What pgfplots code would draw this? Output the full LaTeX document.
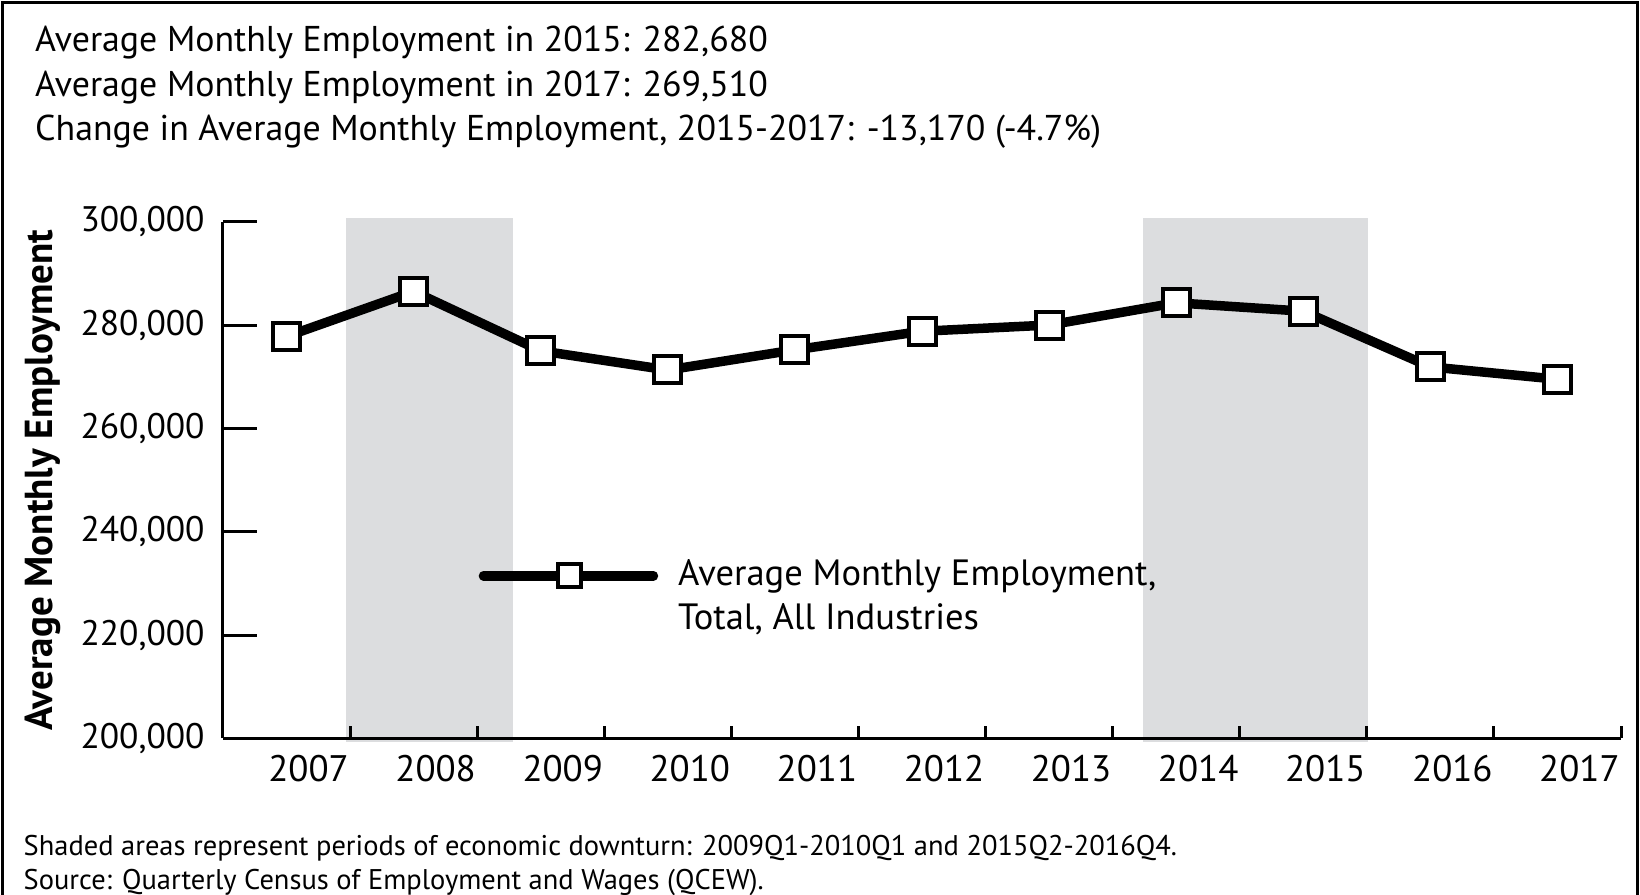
\documentclass[border=0pt]{standalone}
\usepackage{pgfplots}
\pgfplotsset{compat=1.18}
\usepackage{fontspec}
\setmainfont{PT Sans}
\definecolor{shade}{RGB}{220,221,223}
\begin{document}
\begin{tikzpicture}
\useasboundingbox (0,0) rectangle (16.4,8.94);
\draw[line width=0.3mm] (0.03,-1) rectangle (16.37,8.91);
\begin{scope}[every node/.style={anchor=base west, inner sep=0pt, font=\fontsize{10.2}{12.5}\selectfont}]
\node at (0.345,8.42) {Average Monthly Employment in 2015: 282,680};
\node at (0.345,7.98) {Average Monthly Employment in 2017: 269,510};
\node at (0.345,7.54) {Change in Average Monthly Employment, 2015-2017: -13,170 (-4.7\%)};
\end{scope}
\begin{scope}[every node/.style={anchor=base west, inner sep=0pt, font=\fontsize{8.1}{10}\selectfont}]
\node at (0.23,0.39) {Shaded areas represent periods of economic downturn: 2009Q1-2010Q1 and 2015Q2-2016Q4.};
\node at (0.23,0.05) {Source: Quarterly Census of Employment and Wages (QCEW).};
\end{scope}
\begin{axis}[
  at={(2.23cm,1.556cm)}, anchor=south west, scale only axis,
  width=13.98cm, height=5.167cm,
  xmin=-0.5, xmax=10.5, ymin=200000, ymax=300000,
  axis lines=left, axis line style={-, line width=0.3mm},
  axis on top, clip=false,
  xtick={0,...,10},
  xticklabels={2007,2008,2009,2010,2011,2012,2013,2014,2015,2016,2017},
  major x tick style={draw=none},
  minor xtick={0.5,1.5,...,10.5},
  minor tick length=1.2mm,
  ytick={200000,220000,240000,260000,280000,300000},
  major tick length=3.4mm,
  tick align=inside,
  tick style={line width=0.3mm, black},
  scaled y ticks=false,
  xticklabel style={font=\fontsize{10.5}{12}\selectfont, yshift=-0.4mm, xshift=2.2mm},
  yticklabel style={font=\fontsize{10.1}{12}\selectfont, xshift=-0.6mm, /pgf/number format/.cd, fixed, 1000 sep={,}, assume math mode=true},
  ylabel={Average Monthly Employment},
  ylabel style={font=\fontsize{11.1}{12}\selectfont\bfseries, at={(axis description cs:-0.129,0.5)}, anchor=center},
  legend style={at={(axis description cs:0.1824,0.274)}, anchor=west, draw=none, fill=none,
    inner sep=0pt, column sep=1.3mm, cells={align=left}, font=\fontsize{10.4}{12.5}\selectfont},
  legend cell align=left,
  legend image code/.code={
    \draw[black, line width=0.95mm, line cap=round] (0.045cm,0.21cm) -- (1.745cm,0.21cm);
    \draw[black, line width=0.4mm, fill=white] (0.795cm,0.095cm) rectangle (1.025cm,0.325cm);
  },
]
\addplot[fill=shade, draw=none, forget plot] coordinates {(0.47,199400) (1.78,199400) (1.78,300700) (0.47,300700)} -- cycle;
\addplot[fill=shade, draw=none, forget plot] coordinates {(6.74,199400) (8.51,199400) (8.51,300700) (6.74,300700)} -- cycle;
\addplot[black, line width=0.95mm, mark=square*, mark size=1.35mm,
  mark options={fill=white, draw=black, line width=0.4mm, solid}]
  coordinates {
  (0,277800) (1,286500) (2,275000) (3,271300) (4,275200) (5,278800)
  (6,280000) (7,284300) (8,282680) (9,271900) (10,269510)
  };
\addlegendentry{Average Monthly Employment,\\Total, All Industries}
\end{axis}
\end{tikzpicture}
\end{document}
